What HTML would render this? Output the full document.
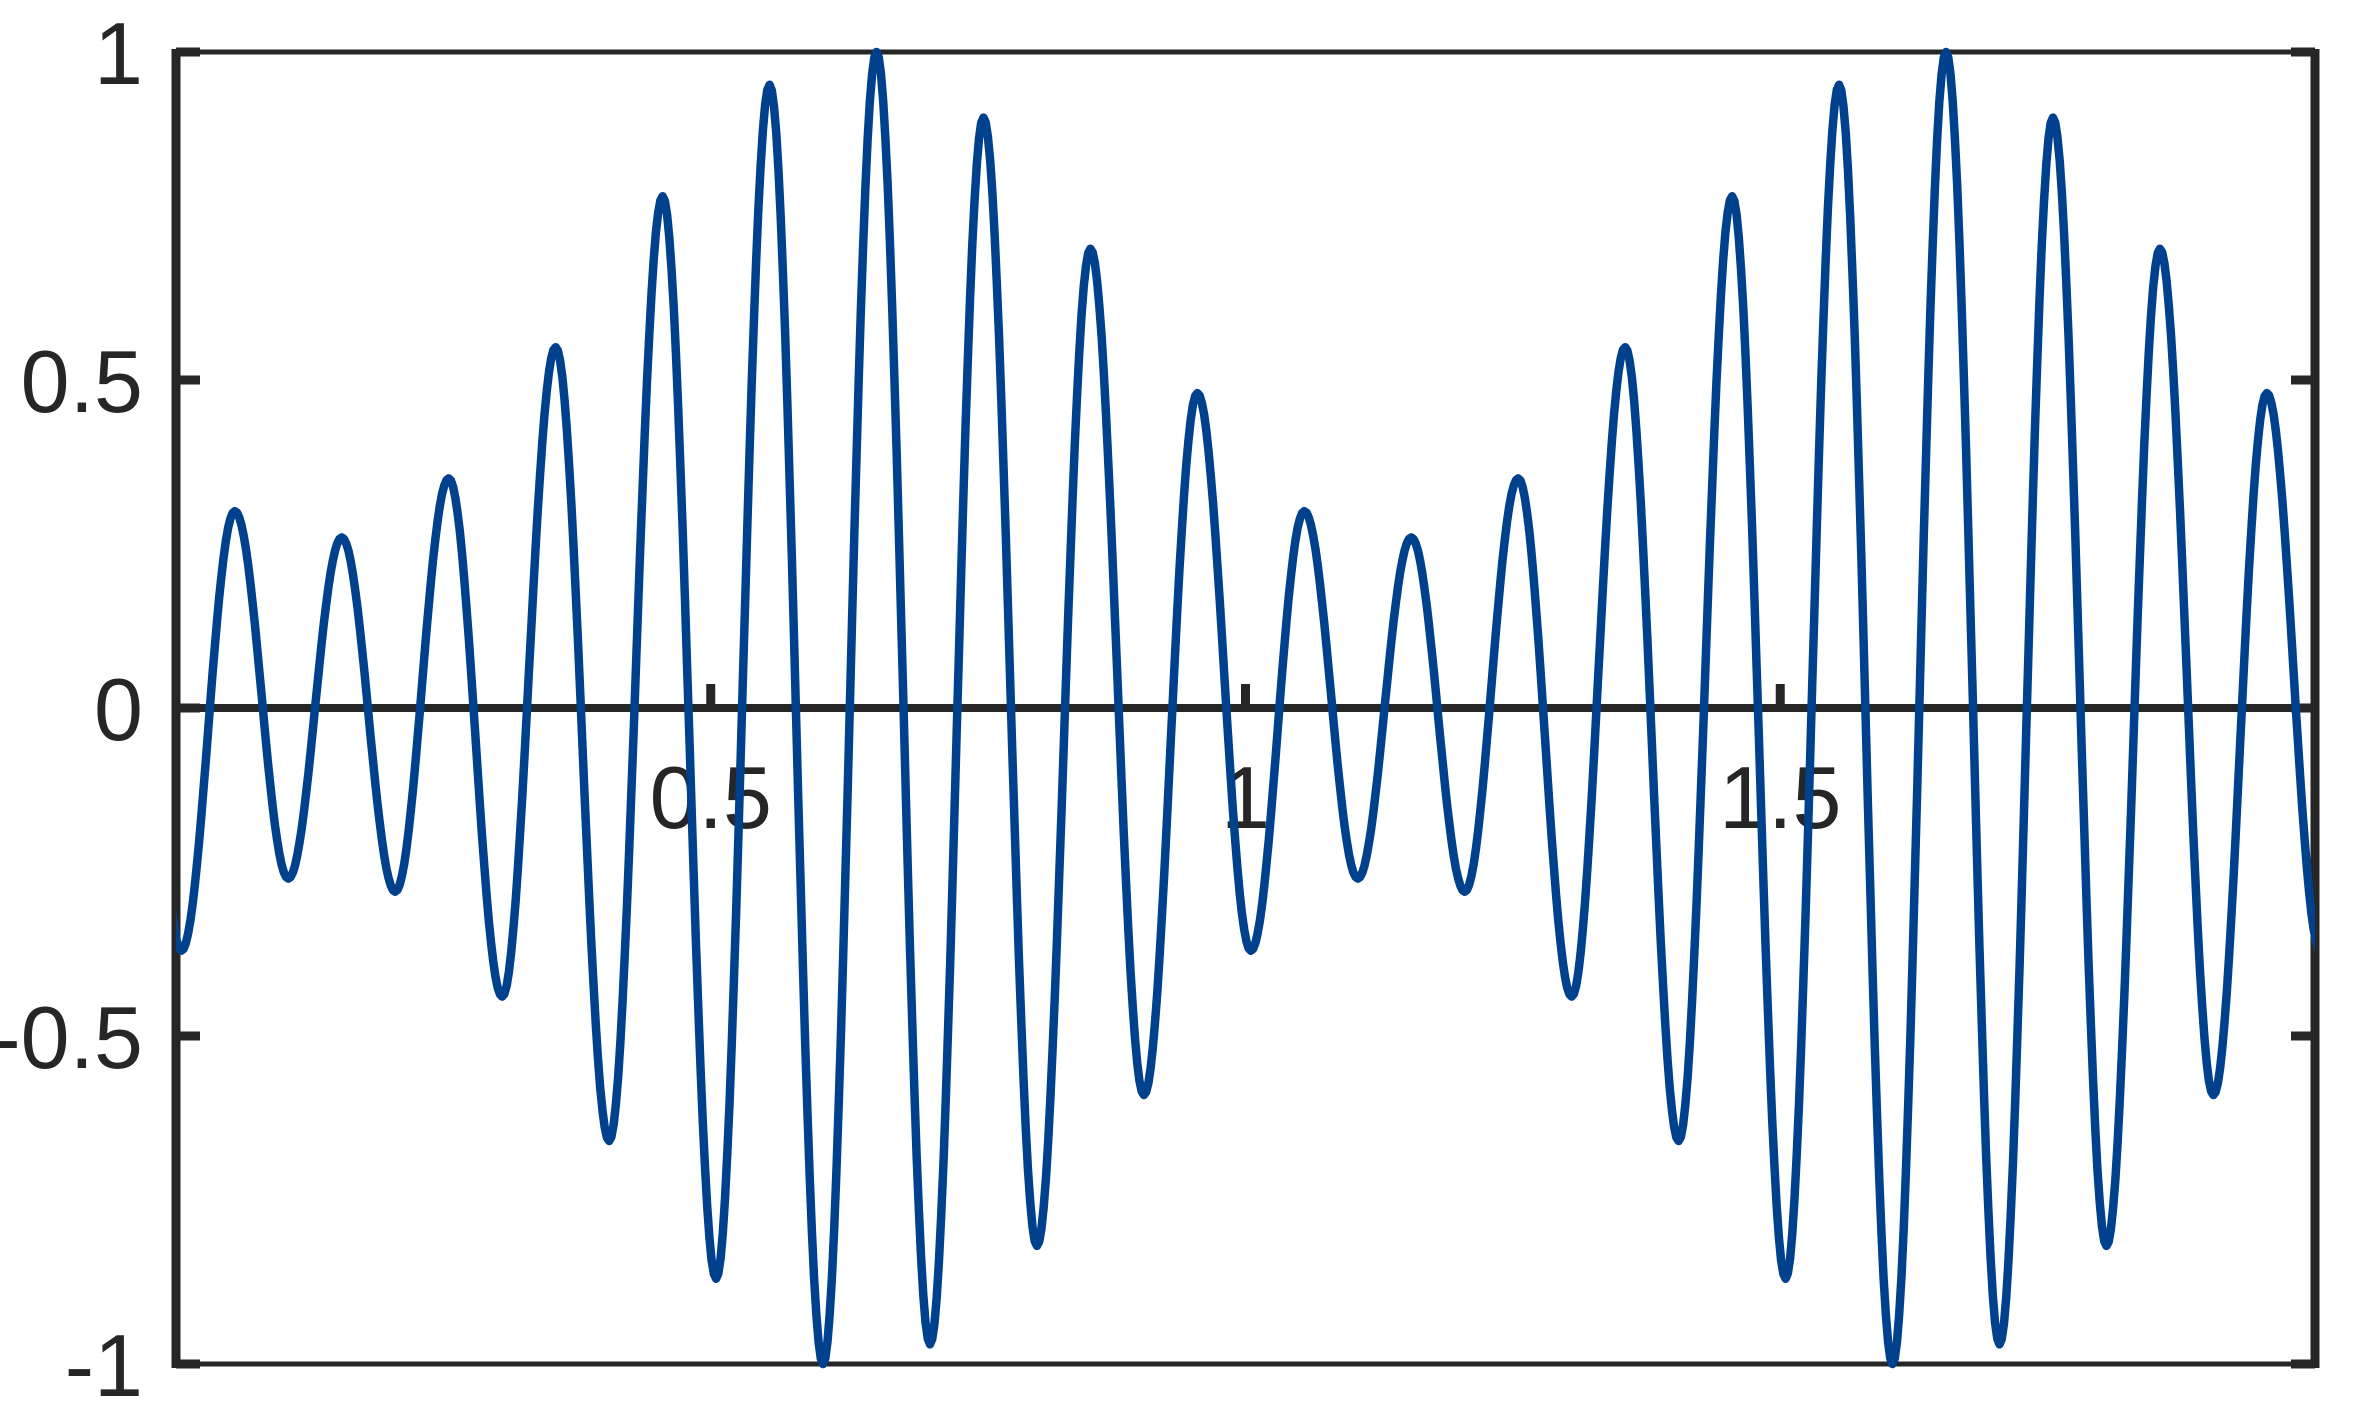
<!DOCTYPE html>
<html><head><meta charset="utf-8"><style>
html,body{margin:0;padding:0;background:#fff;}
svg{display:block;}
text{font-family:"Liberation Sans",Arial,sans-serif;fill:#262626;font-size:88px;}
</style></head><body>
<svg id="chart" width="2362" height="1417" viewBox="0 0 2362 1417" xmlns="http://www.w3.org/2000/svg">
<defs><clipPath id="plotclip"><rect x="176" y="40" width="2139" height="1336"/></clipPath></defs>
<g id="axes"></g>
<path id="series" fill="none" stroke="#00418d" stroke-width="8.5" stroke-linejoin="round" clip-path="url(#plotclip)"/>
</svg>
<script>
// extrema of the waveform (x position, value)
const extremaX = [-0.045,0.005,0.055,0.105,0.155,0.205,0.255,0.305,0.355,0.405,0.455,0.505,0.555,0.605,0.655,0.705,0.755,0.805,0.855,0.905,0.955,
1.005,1.055,1.105,1.155,1.205,1.255,1.305,1.355,1.405,1.455,1.505,1.555,1.605,1.655,1.705,1.755,1.805,1.855,1.905,1.955,2.005,2.055];
const extremaY = [0.48,-0.37,0.30,-0.26,0.26,-0.28,0.35,-0.44,0.55,-0.66,0.78,-0.87,0.95,-1.0,1.0,-0.97,0.90,-0.82,0.70,-0.59,0.48,
-0.37,0.30,-0.26,0.26,-0.28,0.35,-0.44,0.55,-0.66,0.78,-0.87,0.95,-1.0,1.0,-0.97,0.90,-0.82,0.70,-0.59,0.48,-0.37,0.30];
const xTicks = [0.5,1,1.5];
const xTickLabels = ["0.5","1","1.5"];
const yTicks = [1,0.5,0,-0.5,-1];
const yTickLabels = ["1","0.5","0","-0.5","-1"];

const X0=176,X1=2315,Y0=1364,Y1=52;
const xMin=0,xMax=2,yMin=-1,yMax=1;
function sx(v){return X0+(v-xMin)/(xMax-xMin)*(X1-X0);}
function sy(v){return Y0-(v-yMin)/(yMax-yMin)*(Y0-Y1);}

const NS="http://www.w3.org/2000/svg";
const axes=document.getElementById('axes');
function mk(tag,attrs,parent){const e=document.createElementNS(NS,tag);for(const k in attrs)e.setAttribute(k,attrs[k]);(parent||axes).appendChild(e);return e;}

let zl=mk('line',{x1:X0,x2:X1,y1:sy(0),y2:sy(0),stroke:'#262626','stroke-width':8});


let bt=mk('line',{x1:X0,x2:X1,y1:Y1,y2:Y1,stroke:'#262626','stroke-width':5});


let bb=mk('line',{x1:X0,x2:X1,y1:Y0,y2:Y0,stroke:'#262626','stroke-width':5});


let bl=mk('line',{x1:X0,x2:X0,y1:Y1-3,y2:Y0+4,stroke:'#262626','stroke-width':9});


let br=mk('line',{x1:X1,x2:X1,y1:Y1-3,y2:Y0+4,stroke:'#262626','stroke-width':9});



yTicks.forEach((v,i)=>{
  const y=sy(v);
  let t1=mk('line',{x1:X0,x2:X0+24,y1:y,y2:y,stroke:'#262626','stroke-width':9});
  
  
  let t2=mk('line',{x1:X1-24,x2:X1,y1:y,y2:y,stroke:'#262626','stroke-width':9});
  
  
  let tx=mk('text',{x:143,y:y+32,'text-anchor':'end'});
  tx.textContent=yTickLabels[i];
  
  
});
xTicks.forEach((v,i)=>{
  const x=sx(v);
  let t=mk('line',{x1:x,x2:x,y1:sy(0),y2:sy(0)-24,stroke:'#262626','stroke-width':9});
  
  
  let tx=mk('text',{x:x,y:828,'text-anchor':'middle'});
  tx.textContent=xTickLabels[i];
  
  
});

let d='';
for(let i=0;i<extremaX.length-1;i++){
  const xa=extremaX[i],xb=extremaX[i+1],ya=extremaY[i],yb=extremaY[i+1];
  const N=24;
  for(let j=(i===0?0:1);j<=N;j++){
    const t=j/N;
    const w=(1-Math.cos(Math.PI*t))/2;
    const xv=xa+(xb-xa)*t, yv=ya+(yb-ya)*w;
    d+=(d?'L':'M')+sx(xv).toFixed(1)+','+sy(yv).toFixed(1);
  }
}
document.getElementById('series').setAttribute('d',d);
</script>
</body></html>
